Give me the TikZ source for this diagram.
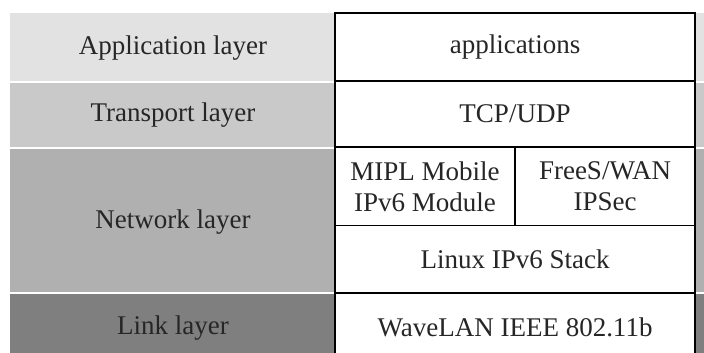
\documentclass[tikz,border=0pt]{standalone}
\usepackage{fontspec}
\setmainfont{Liberation Serif}
\definecolor{appgray}{HTML}{E2E2E2}
\definecolor{trgray}{HTML}{C9C9C9}
\definecolor{netgray}{HTML}{B0B0B0}
\definecolor{linkgray}{HTML}{7F7F7F}
\tikzset{
	layer/.style={font=\fontsize{27}{31}\selectfont, text=black!85},
	cell/.style={draw, line width=1.3pt, fill=white, inner sep=0pt, align=center,
		font=\fontsize{27}{31}\selectfont, text=black!85},
}
\begin{document}
\begin{tikzpicture}[x=1pt,y=-1pt]
		\useasboundingbox (0,0) rectangle (704,353);
		\clip (0,0) rectangle (704,353);
		% grey bands
		\fill[appgray] (10,13) rectangle (704,81);
		\fill[trgray] (10,82.5) rectangle (704,147);
		\fill[netgray] (10,148.5) rectangle (704,292);
		\fill[linkgray] (10,293.5) rectangle (704,360);
		% layer names
		\node[layer] (app) at (173,48) {Application layer};
		\node[layer] (tr) at (173,115) {Transport layer};
		\node[layer] (net) at (173,222) {Network layer};
		\node[layer] (link) at (173,328) {Link layer};
		% table
		\node[cell, minimum width=360pt, minimum height=68pt] (apps) at (515,47) {applications};
		\node[cell, minimum width=360pt, minimum height=66pt] (tcp) at (515,114) {TCP/UDP};
		\node[cell, minimum width=180pt, minimum height=78pt] (mipl) at (425,186.5) {MIPL Mobile\\IPv6 Module};
		\node[cell, minimum width=180pt, minimum height=78pt] (ipsec) at (605,186.5) {FreeS/WAN\\IPSec};
		\node[cell, minimum width=360pt, minimum height=67pt] (stack) at (515,259) {Linux IPv6 Stack};
		\node[cell, minimum width=360pt, minimum height=68pt] (wave) at (515,327) {WaveLAN IEEE 802.11b};
\end{tikzpicture}
\end{document}
